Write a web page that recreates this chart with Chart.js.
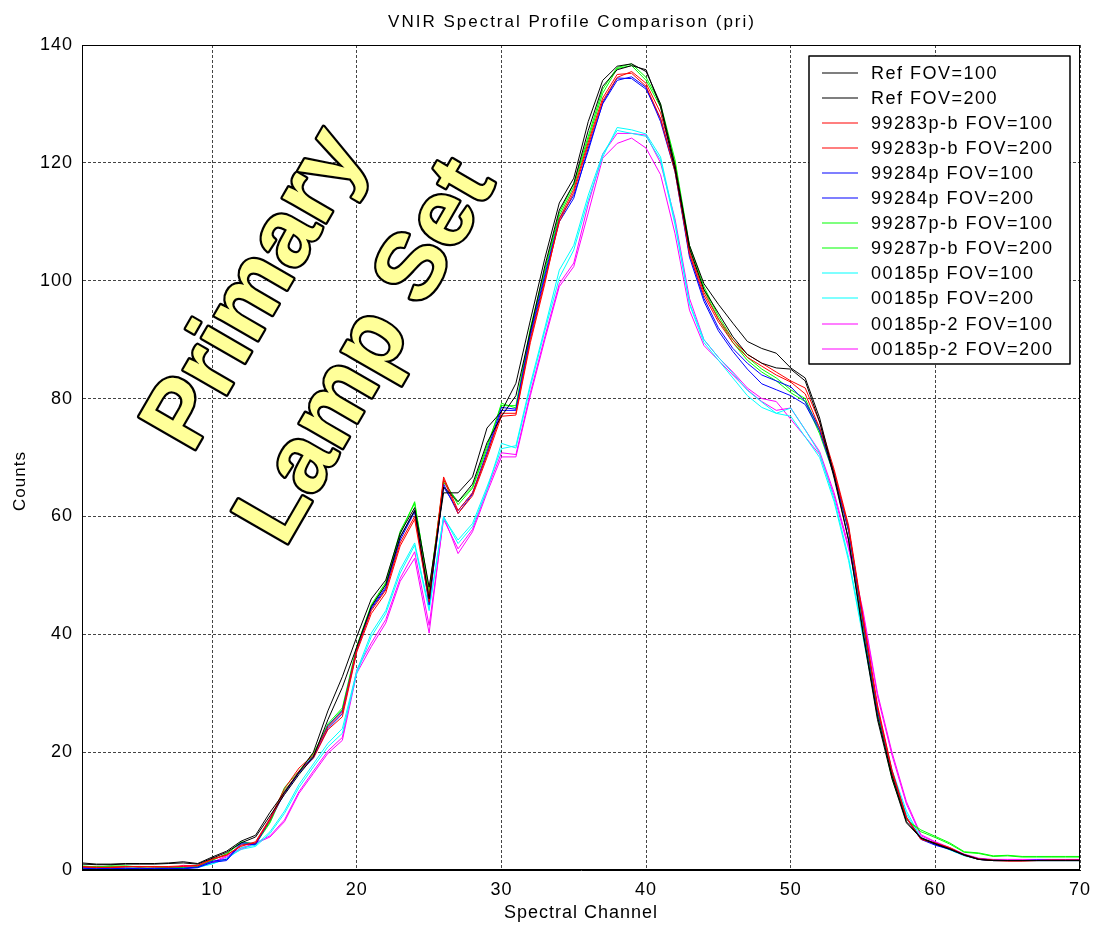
<!DOCTYPE html>
<html>
<head>
<meta charset="utf-8">
<script src="https://cdn.jsdelivr.net/npm/chart.js@4.4.0/dist/chart.umd.min.js"></script>
<style>
html, body { margin: 0; padding: 0; background: #fff; }
canvas { display: block; }
</style>
</head>
<body>
<canvas id="myChart" width="1093" height="925"></canvas>
<script>
// spectral channels 1..70
var channels = [];
for (var i = 1; i <= 70; i++) channels.push(i);

var labels = ['Ref FOV=100', 'Ref FOV=200', '99283p-b FOV=100', '99283p-b FOV=200',
  '99284p FOV=100', '99284p FOV=200', '99287p-b FOV=100', '99287p-b FOV=200',
  '00185p FOV=100', '00185p FOV=200', '00185p-2 FOV=100', '00185p-2 FOV=200'];
var colors = ['#000000', '#000000', '#ff0000', '#ff0000', '#0000ff', '#0000ff',
  '#00ff00', '#00ff00', '#00ffff', '#00ffff', '#ff00ff', '#ff00ff'];

var ref100 = [1.2,1.0,1.0,1.1,1.1,1.1,1.2,1.4,1.1,
  2.2,3.2,4.9,5.9,9.8,13.2,16.6,20.0,27.0,32.8,
  39.6,46.0,49.2,57.2,61.5,48.0,64.0,64.0,66.7,75.0,
  77.8,82.6,93.3,103.8,113.2,117.4,127.0,134.0,136.4,136.8,
  135.5,130.0,119.5,106.0,99.5,96.0,92.8,89.7,88.5,87.7,
  85.2,83.5,76.7,67.0,56.0,40.5,26.0,16.0,8.2,5.5,
  4.5,3.6,2.6,1.8,1.6,1.6,1.6,1.6,1.6,1.6,1.6];
var ref200 = [1.0,0.9,0.9,1.0,1.0,1.0,1.1,1.2,1.0,
  2.0,3.0,4.6,5.6,9.2,12.8,16.2,19.2,25.5,31.0,
  37.9,44.7,48.4,56.5,61.0,46.0,65.0,62.5,65.5,72.5,
  77.0,80.5,91.5,102.5,112.0,116.5,125.5,133.0,135.8,136.5,
  135.8,129.5,118.8,105.5,98.5,94.5,90.5,87.5,86.0,85.2,
  85.0,83.0,76.0,66.5,56.0,40.0,25.5,15.5,8.0,5.4,
  4.4,3.5,2.5,1.8,1.6,1.6,1.6,1.6,1.6,1.6,1.6];
var p99283b100 = [0.6,0.4,0.5,0.6,0.5,0.6,0.5,0.6,0.8,
  1.9,2.6,4.0,4.8,8.8,13.8,17.3,19.5,24.3,26.8,
  37.5,44.0,47.5,55.5,60.0,46.5,66.7,61.0,64.0,70.5,
  77.5,77.5,90.0,100.0,110.0,115.0,123.0,130.5,134.5,135.5,
  133.5,128.5,119.5,105.0,98.0,93.5,90.0,87.5,86.0,84.5,
  83.0,81.8,76.0,68.0,58.5,43.0,28.0,17.0,9.0,5.3,
  4.6,3.8,2.6,1.9,1.7,1.6,1.6,1.6,1.7,1.7,1.7];
var p99283b200 = [0.5,0.5,0.4,0.5,0.6,0.5,0.6,0.7,0.7,
  1.8,2.5,4.2,4.6,8.5,13.2,16.8,19.0,23.8,26.0,
  37.0,43.5,47.0,55.0,59.5,45.5,66.3,60.5,63.5,70.0,
  77.0,77.2,89.5,99.5,110.5,115.5,123.5,131.0,135.0,135.2,
  133.0,127.5,118.5,104.5,97.5,93.0,89.5,87.0,85.5,84.0,
  82.8,80.8,75.0,67.5,58.0,42.5,27.5,16.5,8.8,5.2,
  4.5,3.7,2.5,1.8,1.6,1.5,1.5,1.6,1.6,1.6,1.6];
var p99284_100 = [0.3,0.2,0.3,0.3,0.2,0.3,0.3,0.2,0.4,
  1.3,1.6,4.4,4.3,8.5,13.0,16.5,19.0,24.0,26.5,
  37.2,44.3,47.7,56.0,60.8,45.0,65.5,60.5,63.8,70.5,
  78.0,78.0,90.5,100.5,110.0,114.0,122.5,130.0,134.0,134.6,
  132.8,127.0,118.5,104.0,96.5,91.5,88.0,85.0,82.5,81.5,
  80.5,79.0,74.5,67.0,57.5,42.0,27.0,16.5,8.8,5.2,
  4.2,3.5,2.5,1.8,1.6,1.6,1.6,1.6,1.6,1.6,1.6];
var p99284_200 = [0.4,0.3,0.3,0.2,0.3,0.2,0.3,0.3,0.5,
  1.5,1.8,4.6,4.5,8.7,13.2,16.7,19.3,24.5,27.0,
  37.5,44.5,48.0,56.5,61.0,45.5,65.0,61.0,64.0,71.0,
  78.5,78.2,91.0,101.0,110.5,114.5,122.0,130.2,134.4,134.3,
  132.5,127.5,119.0,104.5,97.0,92.0,88.5,86.0,84.0,83.0,
  82.0,79.5,75.0,67.5,58.0,42.5,27.5,16.8,8.9,5.4,
  4.3,3.6,2.6,1.9,1.7,1.6,1.6,1.7,1.7,1.7,1.7];
var p99287b100 = [0.7,0.5,0.7,0.6,0.6,0.5,0.4,0.3,0.6,
  1.6,2.8,4.6,4.5,8.2,14.0,16.8,19.8,24.5,27.2,
  37.8,44.8,48.5,57.0,62.5,47.0,66.2,62.0,64.8,71.5,
  79.2,78.4,91.5,101.5,111.0,116.0,124.0,131.8,136.0,136.5,
  134.0,129.5,120.0,105.5,98.5,93.5,89.5,86.5,84.5,83.0,
  81.0,79.5,74.0,67.0,57.5,41.5,26.5,15.5,8.5,6.8,
  5.7,4.6,3.1,2.9,2.4,2.5,2.3,2.3,2.3,2.3,2.3];
var p99287b200 = [0.6,0.6,0.6,0.7,0.5,0.6,0.5,0.4,0.5,
  1.7,2.7,4.8,4.4,8.0,13.5,16.5,19.5,24.8,27.5,
  38.0,45.0,48.8,57.5,62.2,47.5,65.8,62.5,65.0,72.0,
  78.8,78.8,92.0,102.0,111.5,116.5,124.5,132.5,136.2,136.8,
  134.5,130.0,120.5,106.0,99.0,94.0,90.0,87.0,85.0,83.5,
  81.5,80.0,74.5,67.5,58.0,42.0,27.0,16.0,8.6,6.5,
  5.5,4.4,3.0,2.8,2.3,2.4,2.2,2.2,2.2,2.2,2.2];
var p00185_100 = [0.2,0.3,0.3,0.4,0.3,0.3,0.4,0.3,0.5,
  1.0,2.0,3.5,4.0,6.2,9.6,14.0,17.5,20.9,23.2,
  33.4,39.6,43.5,50.4,55.1,44.0,60.0,55.4,58.3,64.5,
  72.4,71.6,82.0,91.5,100.5,105.2,113.7,121.0,126.0,125.6,
  124.9,121.0,110.0,96.2,90.0,87.0,84.3,81.4,79.4,77.5,
  78.4,74.7,70.7,63.0,53.0,40.0,27.0,17.0,10.0,5.5,
  4.5,3.5,2.5,1.8,1.6,1.6,1.6,1.6,1.6,1.6,1.6];
var p00185_200 = [0.3,0.2,0.4,0.3,0.4,0.2,0.3,0.4,0.4,
  1.1,1.8,3.8,4.2,6.5,10.0,14.5,18.0,21.5,24.0,
  33.8,40.2,44.0,51.0,55.5,44.5,59.8,56.0,58.8,65.0,
  71.5,72.0,82.5,92.0,101.8,106.0,114.5,121.5,125.5,125.0,
  124.5,120.5,109.5,96.0,89.5,86.5,83.5,80.5,78.5,77.5,
  77.0,73.5,70.0,62.5,52.5,39.5,26.5,16.5,9.5,5.3,
  4.4,3.4,2.4,1.8,1.6,1.6,1.6,1.6,1.6,1.6,1.6];
var p00185_2_100 = [0.6,0.2,0.3,0.2,0.3,0.2,0.2,0.8,0.6,
  1.2,2.2,3.5,4.5,5.6,8.2,13.0,16.4,19.8,22.0,
  33.4,37.9,41.9,49.0,52.9,40.2,60.0,53.7,57.4,64.0,
  70.1,70.1,80.5,90.0,99.0,102.4,111.5,120.8,123.3,124.2,
  122.5,118.0,108.0,95.0,89.0,86.5,84.0,81.5,79.5,78.0,
  78.4,74.7,71.0,64.0,55.0,44.0,30.0,20.0,11.6,6.0,
  4.8,3.8,2.7,2.0,1.8,1.8,1.8,1.8,1.8,1.8,1.8];
var p00185_2_200 = [0.4,0.3,0.2,0.3,0.2,0.3,0.3,0.6,0.7,
  1.3,2.4,3.7,4.6,5.8,8.5,13.3,16.8,20.2,22.5,
  34.0,38.5,42.5,49.5,54.0,41.5,59.5,54.5,57.8,64.5,
  70.8,70.5,81.0,90.5,99.5,103.0,113.0,121.5,125.0,125.0,
  124.7,120.0,110.5,97.0,90.0,87.0,84.5,81.8,80.0,79.5,
  76.5,73.5,70.5,63.5,54.5,43.5,29.5,19.5,11.2,5.8,
  4.7,3.7,2.6,1.9,1.7,1.7,1.7,1.7,1.7,1.7,1.7];

var series = [ref100, ref200, p99283b100, p99283b200, p99284_100, p99284_200,
  p99287b100, p99287b200, p00185_100, p00185_200, p00185_2_100, p00185_2_200];

var xTicks = [10, 20, 30, 40, 50, 60, 70];
var yTicks = [0, 20, 40, 60, 80, 100, 120, 140];

var FONT = '"Liberation Sans", Arial, sans-serif';

var datasets = series.map(function (s, i) {
  return {
    label: labels[i],
    data: s,
    borderColor: colors[i],
    backgroundColor: colors[i],
    borderWidth: 1,
    pointRadius: 0,
    tension: 0,
    fill: false
  };
});

// frame, titles, legend box and the big annotation
var extras = {
  id: 'extras',
  beforeLayout: function (chart) { chart.ctx.letterSpacing = '1px'; },
  beforeDraw: function (chart) { chart.ctx.letterSpacing = '1px'; },
  afterDraw: function (chart) {
    var ctx = chart.ctx, ca = chart.chartArea;
    var xs = chart.scales.x, ys = chart.scales.y;
    ctx.save();
    ctx.strokeStyle = '#000';
    ctx.lineWidth = 1;
    ctx.strokeRect(ca.left + 0.5, ca.top + 0.5, ca.right - ca.left - 1, ca.bottom - ca.top - 1);

    // title
    ctx.letterSpacing = '2px';
    ctx.fillStyle = '#000';
    ctx.font = '17px ' + FONT;
    ctx.textAlign = 'center';
    ctx.textBaseline = 'middle';
    ctx.fillText('VNIR Spectral Profile Comparison (pri)', (ca.left + ca.right) / 2 - 9, 22);

    // y axis title
    ctx.letterSpacing = '1px';
    ctx.save();
    ctx.translate(20, 481);
    ctx.rotate(-Math.PI / 2);
    ctx.fillText('Counts', 0, 0);
    ctx.restore();

    // annotation
    ctx.letterSpacing = '0px';
    ctx.font = 'bold 94px ' + FONT;
    ctx.textAlign = 'left';
    ctx.textBaseline = 'alphabetic';
    ctx.lineJoin = 'round';
    var notes = [['Primary', 8.6, 70.5], ['Lamp Set', 15.0, 54.5]];
    notes.forEach(function (n) {
      ctx.save();
      ctx.translate(xs.getPixelForValue(n[1]), ys.getPixelForValue(n[2]));
      ctx.rotate(-60 * Math.PI / 180);
      ctx.strokeStyle = '#000';
      ctx.lineWidth = 4.5;
      ctx.strokeText(n[0], 0, 0);
      ctx.fillStyle = '#ffff99';
      ctx.fillText(n[0], 0, 0);
      ctx.restore();
    });

    // legend
    ctx.letterSpacing = '1.5px';
    var lx = ca.right - 271, ly = ca.top + 11, lw = 261, lh = 308;
    ctx.fillStyle = '#fff';
    ctx.fillRect(lx, ly, lw, lh);
    ctx.lineWidth = 1.5;
    ctx.strokeStyle = '#000';
    ctx.strokeRect(lx, ly, lw, lh);
    ctx.font = '18px ' + FONT;
    ctx.textAlign = 'left';
    ctx.textBaseline = 'middle';
    chart.data.datasets.forEach(function (d, i) {
      var ry = Math.round(ly + 16.5 + i * 25.1);
      ctx.strokeStyle = d.borderColor;
      ctx.lineWidth = 1.2;
      ctx.beginPath();
      ctx.moveTo(lx + 13, ry);
      ctx.lineTo(lx + 49, ry);
      ctx.stroke();
      ctx.fillStyle = '#000';
      ctx.fillText(d.label, lx + 62, ry + 1);
    });
    ctx.restore();
  }
};

var ctx = document.getElementById('myChart').getContext('2d');
var myChart = new Chart(ctx, {
  type: 'line',
  data: { labels: channels, datasets: datasets },
  options: {
    responsive: false,
    animation: false,
    events: [],
    layout: { padding: { top: 45, right: 13, left: 0, bottom: 0 } },
    plugins: {
      legend: { display: false },
      title: { display: false },
      tooltip: { enabled: false }
    },
    scales: {
      x: {
        type: 'linear',
        min: 1,
        max: 70,
        afterBuildTicks: function (s) {
          s.ticks = xTicks.map(function (v) { return { value: v }; });
        },
        afterFit: function (s) { s.height = 55; s.paddingLeft = 0; s.paddingRight = 0; },
        grid: { color: '#444', drawTicks: false, lineWidth: 1 },
        border: { display: true, color: '#000', dash: [3, 2] },
        ticks: { color: '#000', padding: 9, maxRotation: 0, autoSkip: false, font: { family: FONT, size: 18 } },
        title: { display: true, text: 'Spectral Channel', color: '#000', padding: { top: 0, bottom: 1 }, font: { family: FONT, size: 18 } }
      },
      y: {
        min: 0,
        max: 140,
        afterBuildTicks: function (s) {
          s.ticks = yTicks.map(function (v) { return { value: v }; });
        },
        afterFit: function (s) { s.width = 82; s.paddingTop = 0; s.paddingBottom = 0; },
        grid: { color: '#444', drawTicks: false, lineWidth: 1 },
        border: { display: true, color: '#000', dash: [3, 2] },
        ticks: { color: '#000', padding: 9, font: { family: FONT, size: 18 } },
        title: { display: false, text: 'Counts' }
      }
    }
  },
  plugins: [extras]
});
</script>
</body>
</html>
